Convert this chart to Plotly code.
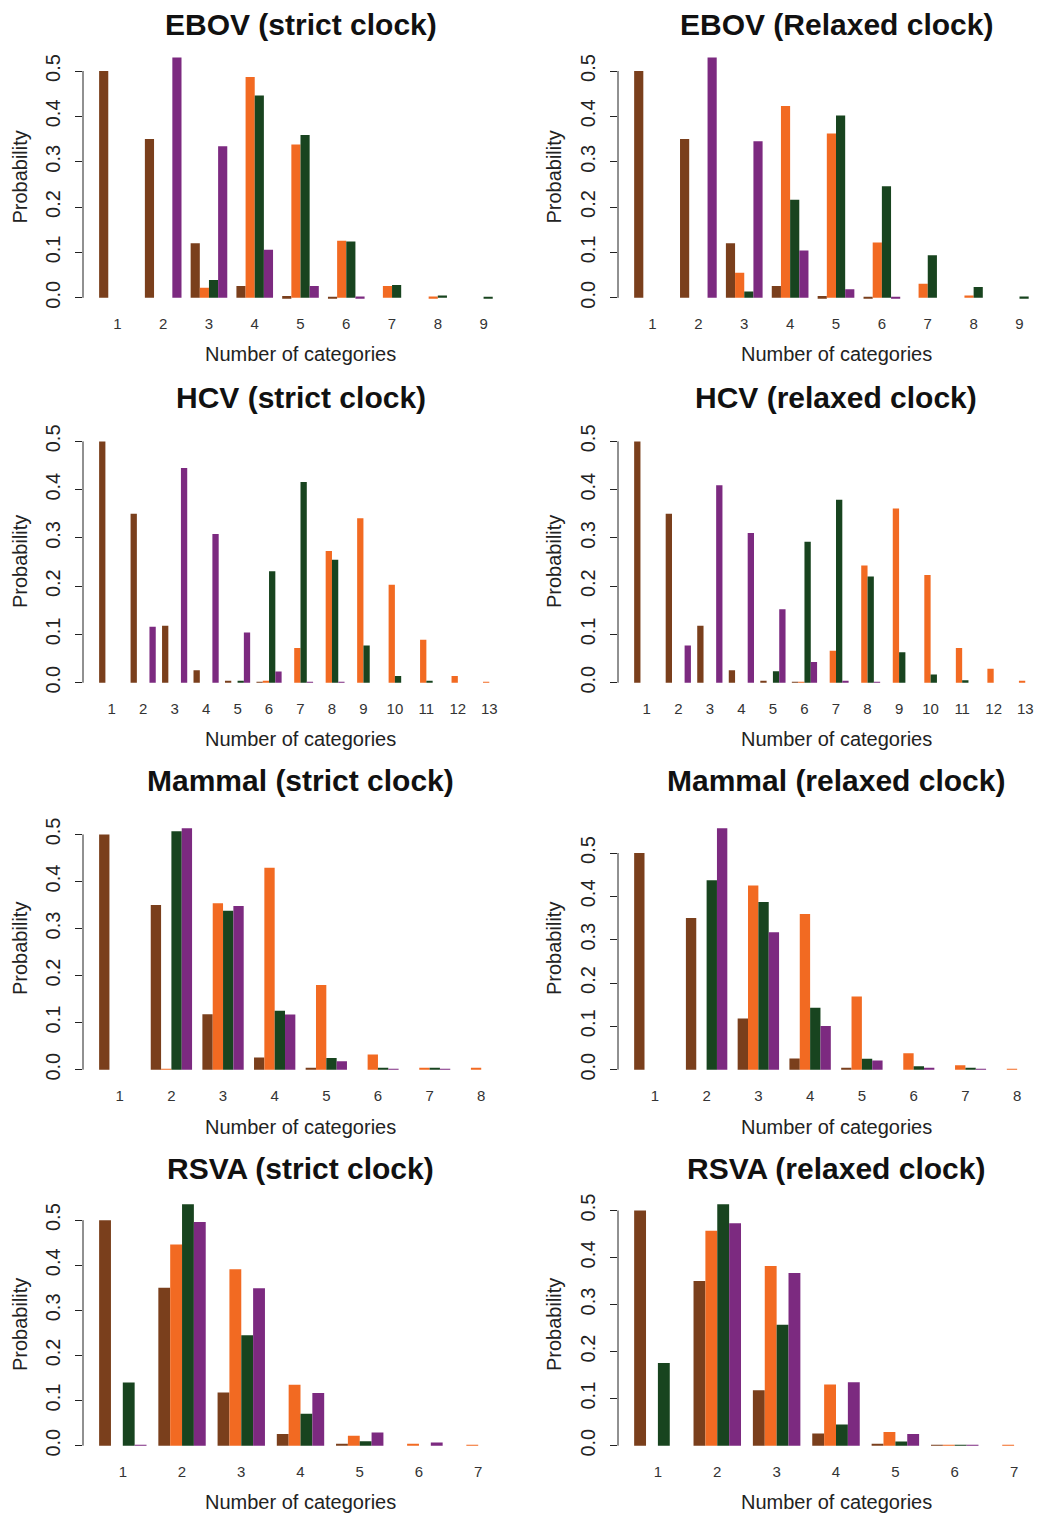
import plotly.graph_objects as go

# ---------------- data ----------------
categories_ebov = [1, 2, 3, 4, 5, 6, 7, 8, 9]
categories_hcv = [1, 2, 3, 4, 5, 6, 7, 8, 9, 10, 11, 12, 13]
categories_mammal = [1, 2, 3, 4, 5, 6, 7, 8]
categories_rsva = [1, 2, 3, 4, 5, 6, 7]

series_names = ["Series 1 (brown)", "Series 2 (orange)", "Series 3 (green)", "Series 4 (purple)"]
series_colors = ["#7A3F1C", "#F26A22", "#18441F", "#7C2A80"]

ebov_strict_brown = [0.5, 0.35, 0.12, 0.026, 0.004, 0.001, 0, 0, 0]
ebov_strict_orange = [0, 0, 0.022, 0.487, 0.338, 0.126, 0.026, 0.003, 0]
ebov_strict_green = [0, 0, 0.039, 0.446, 0.359, 0.124, 0.028, 0.005, 0.002]
ebov_strict_purple = [0, 0.53, 0.334, 0.106, 0.026, 0.003, 0, 0, 0]

ebov_relaxed_brown = [0.5, 0.35, 0.12, 0.026, 0.004, 0.001, 0, 0, 0]
ebov_relaxed_orange = [0, 0, 0.055, 0.423, 0.362, 0.122, 0.031, 0.005, 0]
ebov_relaxed_green = [0, 0, 0.014, 0.216, 0.402, 0.246, 0.094, 0.024, 0.003]
ebov_relaxed_purple = [0, 0.53, 0.345, 0.104, 0.019, 0.001, 0, 0, 0]

hcv_strict_brown = [0.5, 0.35, 0.118, 0.026, 0.003, 0.001, 0, 0, 0, 0, 0, 0, 0]
hcv_strict_orange = [0, 0, 0, 0, 0, 0.004, 0.072, 0.273, 0.341, 0.203, 0.089, 0.014, 0.002]
hcv_strict_green = [0, 0, 0, 0, 0.003, 0.231, 0.416, 0.255, 0.077, 0.014, 0.003, 0, 0]
hcv_strict_purple = [0, 0.116, 0.445, 0.308, 0.104, 0.023, 0.002, 0.001, 0, 0, 0, 0, 0]

hcv_relaxed_brown = [0.5, 0.35, 0.118, 0.026, 0.003, 0.001, 0, 0, 0, 0, 0, 0, 0]
hcv_relaxed_orange = [0, 0, 0, 0, 0, 0.002, 0.066, 0.243, 0.361, 0.223, 0.072, 0.029, 0.003]
hcv_relaxed_green = [0, 0, 0, 0, 0.024, 0.292, 0.379, 0.22, 0.063, 0.017, 0.005, 0, 0]
hcv_relaxed_purple = [0, 0.077, 0.409, 0.31, 0.152, 0.043, 0.004, 0.001, 0, 0, 0, 0, 0]

mammal_strict_brown = [0.5, 0.35, 0.118, 0.026, 0.004, 0, 0, 0]
mammal_strict_orange = [0, 0.001, 0.354, 0.429, 0.18, 0.032, 0.003, 0.003]
mammal_strict_green = [0, 0.507, 0.338, 0.125, 0.025, 0.004, 0.003, 0]
mammal_strict_purple = [0, 0.513, 0.348, 0.117, 0.018, 0.002, 0.001, 0]

mammal_relaxed_brown = [0.5, 0.35, 0.118, 0.026, 0.004, 0, 0, 0]
mammal_relaxed_orange = [0, 0, 0.425, 0.359, 0.169, 0.038, 0.01, 0.001]
mammal_relaxed_green = [0, 0.437, 0.387, 0.143, 0.025, 0.008, 0.003, 0]
mammal_relaxed_purple = [0, 0.557, 0.317, 0.101, 0.021, 0.004, 0.002, 0]

rsva_strict_brown = [0.5, 0.35, 0.118, 0.026, 0.004, 0, 0]
rsva_strict_orange = [0, 0.446, 0.391, 0.135, 0.022, 0.004, 0.002]
rsva_strict_green = [0.14, 0.535, 0.245, 0.071, 0.01, 0, 0]
rsva_strict_purple = [0.002, 0.496, 0.349, 0.117, 0.029, 0.007, 0]

rsva_relaxed_brown = [0.5, 0.35, 0.118, 0.026, 0.004, 0.001, 0]
rsva_relaxed_orange = [0, 0.457, 0.382, 0.13, 0.029, 0.002, 0.002]
rsva_relaxed_green = [0.176, 0.513, 0.257, 0.045, 0.009, 0.002, 0]
rsva_relaxed_purple = [0, 0.473, 0.367, 0.135, 0.025, 0.002, 0]

y_ticks = [0.0, 0.1, 0.2, 0.3, 0.4, 0.5]
x_title = "Number of categories"
y_title = "Probability"

panels = [
    ("EBOV (strict clock)", categories_ebov,
     [ebov_strict_brown, ebov_strict_orange, ebov_strict_green, ebov_strict_purple]),
    ("EBOV (Relaxed clock)", categories_ebov,
     [ebov_relaxed_brown, ebov_relaxed_orange, ebov_relaxed_green, ebov_relaxed_purple]),
    ("HCV (strict clock)", categories_hcv,
     [hcv_strict_brown, hcv_strict_orange, hcv_strict_green, hcv_strict_purple]),
    ("HCV (relaxed clock)", categories_hcv,
     [hcv_relaxed_brown, hcv_relaxed_orange, hcv_relaxed_green, hcv_relaxed_purple]),
    ("Mammal (strict clock)", categories_mammal,
     [mammal_strict_brown, mammal_strict_orange, mammal_strict_green, mammal_strict_purple]),
    ("Mammal (relaxed clock)", categories_mammal,
     [mammal_relaxed_brown, mammal_relaxed_orange, mammal_relaxed_green, mammal_relaxed_purple]),
    ("RSVA (strict clock)", categories_rsva,
     [rsva_strict_brown, rsva_strict_orange, rsva_strict_green, rsva_strict_purple]),
    ("RSVA (relaxed clock)", categories_rsva,
     [rsva_relaxed_brown, rsva_relaxed_orange, rsva_relaxed_green, rsva_relaxed_purple]),
]

# ---------------- layout geometry (pixels) ----------------
W, H = 1037, 1516
FONT = "Liberation Sans, Arial, Helvetica, sans-serif"
col_px = [(83, 518, 518), (618, 1054, 1037)]      # left, full right, visible right
row_px = [(41, 302), (427, 689), (816, 1078), (1194, 1456)]
title_y_px = [18, 393, 778, 1168]
xtitle_y_px = [349, 736, 1126, 1503]
ytitle_x_px = [20, 554]

fig = go.Figure()
shapes = []
annotations = []
layout_axes = {}

for i, (title, cats, series) in enumerate(panels):
    r, c = divmod(i, 2)
    sfx = "" if i == 0 else str(i + 1)
    for name, color, vals in zip(series_names, series_colors, series):
        fig.add_trace(go.Bar(
            x=cats, y=vals, name=name,
            marker=dict(color=color, line=dict(width=0)),
            showlegend=False, xaxis="x" + sfx, yaxis="y" + sfx,
        ))
    n = len(cats)
    ext = 0.008 * (5 * n - 1)
    lo, hi = 0.6 - ext, n + 0.4 + ext
    lpx, rfull, rvis = col_px[c]
    hi_vis = lo + (hi - lo) * (rvis - lpx) / (rfull - lpx)
    ymax = max(max(s) for s in series)
    top_px, bot_px = row_px[r]

    layout_axes["xaxis" + sfx] = dict(
        domain=[lpx / W, rvis / W], range=[lo, hi_vis], anchor="y" + sfx,
        tickmode="array", tickvals=cats, ticktext=[str(v) for v in cats],
        showgrid=False, zeroline=False, showline=False, ticks="",
        ticklabelstandoff=6,
        tickfont=dict(family=FONT, size=15, color="#333333"),
    )
    layout_axes["yaxis" + sfx] = dict(
        domain=[1 - bot_px / H, 1 - top_px / H],
        range=[-0.04 * ymax, 1.04 * ymax], anchor="x" + sfx,
        tickmode="array", tickvals=y_ticks, ticktext=["%.1f" % v for v in y_ticks],
        tickangle=-90, showgrid=False, zeroline=False, showline=False,
        ticks="outside", ticklen=7, tickwidth=1, tickcolor="#222222",
        ticklabelstandoff=7,
        tickfont=dict(family=FONT, size=20, color="#222222"),
    )
    # R-style axis line spanning first to last tick
    shapes.append(dict(type="line", xref="x" + sfx + " domain", yref="y" + sfx,
                       x0=0, x1=0, y0=y_ticks[0], y1=y_ticks[-1],
                       line=dict(color="#222222", width=1)))
    xc = (lpx + rfull) / 2 / W
    annotations.append(dict(text="<b>" + title + "</b>", xref="paper", yref="paper",
                            x=xc, y=1 - title_y_px[r] / H, xanchor="center", yanchor="middle",
                            showarrow=False, font=dict(family=FONT, size=30, color="#111111")))
    annotations.append(dict(text=x_title, xref="paper", yref="paper",
                            x=xc, y=1 - xtitle_y_px[r] / H, xanchor="center", yanchor="middle",
                            showarrow=False, font=dict(family=FONT, size=20, color="#222222")))
    annotations.append(dict(text=y_title, xref="paper", yref="paper", textangle=-90,
                            x=ytitle_x_px[c] / W, y=1 - (top_px + bot_px) / 2 / H,
                            xanchor="center", yanchor="middle",
                            showarrow=False, font=dict(family=FONT, size=20, color="#222222")))

fig.update_layout(
    width=W, height=H, margin=dict(l=0, r=0, t=0, b=0),
    paper_bgcolor="white", plot_bgcolor="white",
    barmode="group", bargap=0.2, bargroupgap=0,
    shapes=shapes, annotations=annotations, showlegend=False,
    **layout_axes,
)

fig.write_html("out.html", config={"displayModeBar": False},
               post_script="document.body.style.margin='0';")
